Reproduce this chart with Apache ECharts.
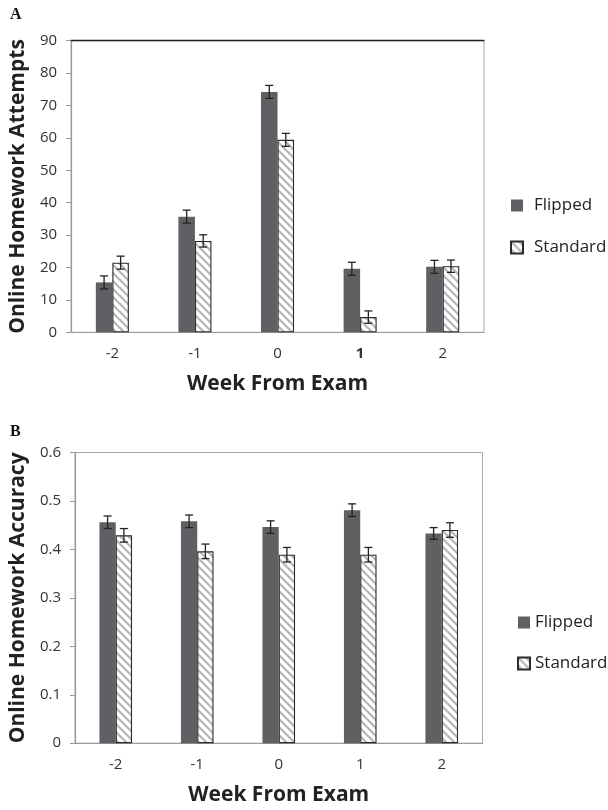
<!DOCTYPE html>
<html>
<head>
<meta charset="utf-8">
<script src="https://cdn.jsdelivr.net/npm/echarts@6/dist/echarts.min.js"></script>
<style>
html,body{margin:0;padding:0;background:#fff;}
#chart{width:608px;height:810px;}
</style>
</head>
<body>
<div id="chart"></div>
<script>
// ---- data ----
var weeks = ['-2', '-1', '0', '1', '2'];
var seriesNames = ['Flipped', 'Standard'];

var attemptsFlipped = [15.4, 35.7, 74.2, 19.6, 20.2];
var attemptsFlippedErr = [2.0, 2.0, 2.0, 2.0, 2.0];
var attemptsStandard = [21.5, 28.2, 59.4, 4.7, 20.4];
var attemptsStandardErr = [2.0, 1.9, 2.0, 1.9, 1.9];

var accuracyFlipped = [0.456, 0.458, 0.446, 0.481, 0.433];
var accuracyFlippedErr = [0.013, 0.013, 0.013, 0.013, 0.012];
var accuracyStandard = [0.429, 0.396, 0.389, 0.389, 0.440];
var accuracyStandardErr = [0.014, 0.015, 0.015, 0.015, 0.015];

var attemptsTicks = {min: 0, max: 90, interval: 10};
var accuracyTicks = {min: 0, max: 0.6, interval: 0.1};

// ---- styles ----
var FONT = '"Open Sans", "Noto Sans", sans-serif';
var FLIP_COLOR = '#5f6064';

function makeStripe() {
  var c = document.createElement('canvas');
  var s = 8;
  c.width = s; c.height = s;
  var ctx = c.getContext('2d');
  ctx.fillStyle = '#ffffff';
  ctx.fillRect(0, 0, s, s);
  ctx.strokeStyle = '#b6b6b6';
  ctx.lineWidth = 2.2;
  [-s, 0, s].forEach(function (o) {
    ctx.beginPath();
    ctx.moveTo(o - 1, -1);
    ctx.lineTo(o + s + 1, s + 1);
    ctx.stroke();
  });
  return c;
}
var stripe = {image: makeStripe(), repeat: 'repeat'};

function errSeries(name, xi, yi, vals, errs, sign) {
  return {
    type: 'custom',
    name: name + ' err',
    xAxisIndex: xi, yAxisIndex: yi,
    z: 10,
    silent: true,
    data: vals.map(function (v, i) { return [i, v, errs[i]]; }),
    encode: {x: 0, y: 1},
    renderItem: function (params, api) {
      var idx = api.value(0), v = api.value(1), e = api.value(2);
      var band = api.size([1, 0])[0];
      var bw = band * 0.2;
      var c = api.coord([idx, v]);
      var x = c[0] + sign * bw / 2;
      var yt = api.coord([idx, v + e])[1];
      var yb = api.coord([idx, v - e])[1];
      var cap = 4;
      var st = {stroke: '#222', lineWidth: 1.3};
      return {
        type: 'group',
        children: [
          {type: 'line', shape: {x1: x, y1: yt, x2: x, y2: yb}, style: st},
          {type: 'line', shape: {x1: x - cap, y1: yt, x2: x + cap, y2: yt}, style: st},
          {type: 'line', shape: {x1: x - cap, y1: yb, x2: x + cap, y2: yb}, style: st}
        ]
      };
    }
  };
}

function yAxis(gi, t, name, fmt) {
  return {
    type: 'value', gridIndex: gi, min: t.min, max: t.max, interval: t.interval,
    name: name, nameLocation: 'middle', nameGap: 42, nameRotate: 90,
    nameTextStyle: {fontFamily: FONT, fontSize: 21, fontWeight: 'bold', color: '#222'},
    axisLine: {show: true, lineStyle: {color: '#9a9a9a', width: 1.2}},
    axisTick: {show: true, length: 5, lineStyle: {color: '#9a9a9a'}},
    axisLabel: {fontFamily: FONT, fontSize: 15, color: '#333', margin: 14, formatter: fmt},
    splitLine: {show: false}
  };
}

function xAxis(gi, boldOne) {
  return {
    type: 'category', gridIndex: gi, data: weeks,
    name: 'Week From Exam', nameLocation: 'middle', nameGap: 41,
    nameTextStyle: {fontFamily: FONT, fontSize: 21, fontWeight: 'bold', color: '#222'},
    axisLine: {show: true, lineStyle: {color: '#9a9a9a', width: 1.2}},
    axisTick: {show: false},
    axisLabel: {
      fontFamily: FONT, fontSize: 15, color: '#333', margin: 14,
      formatter: function (v) { return (boldOne && v === '1') ? '{b|' + v + '}' : v; },
      rich: {b: {fontFamily: FONT, fontSize: 15, fontWeight: 'bold', color: '#333'}}
    }
  };
}

var option = {
  backgroundColor: '#fff',
  animation: false,
  textStyle: {fontFamily: FONT},
  graphic: [
    {type: 'text', left: 10, top: 7, style: {text: 'A', font: 'bold 16px "Liberation Serif", serif', fill: '#111'}},
    {type: 'text', left: 10, top: 424, style: {text: 'B', font: 'bold 16px "Liberation Serif", serif', fill: '#111'}}
  ],
  grid: [
    {left: 71, top: 40.7, width: 413, height: 291.6, show: true, borderColor: '#a8a8a8', borderWidth: 1, backgroundColor: 'transparent'},
    {left: 74, top: 452.5, width: 408.5, height: 290.7, show: true, borderColor: '#a8a8a8', borderWidth: 1, backgroundColor: 'transparent'}
  ],
  legend: [
    {
      data: [seriesNames[0], seriesNames[1]].map(function (n) { return {name: n}; }),
      left: 505, top: 192, orient: 'vertical', itemWidth: 12, itemHeight: 12, itemGap: 25,
      icon: 'rect',
      textStyle: {fontFamily: FONT, fontSize: 17, color: '#222', padding: [0, 0, 0, 6]},
      selectedMode: false
    },
    {
      data: [seriesNames[0] + ' ', seriesNames[1] + ' '].map(function (n) { return {name: n}; }),
      left: 512, top: 609, orient: 'vertical', itemWidth: 12, itemHeight: 12, itemGap: 24,
      icon: 'rect',
      textStyle: {fontFamily: FONT, fontSize: 17, color: '#222'},
      selectedMode: false
    }
  ],
  xAxis: [
    xAxis(0, true),
    xAxis(1, false),
    {type: 'category', gridIndex: 0, position: 'top', data: weeks,
     axisLine: {show: true, lineStyle: {color: '#222', width: 1.3}},
     axisTick: {show: false}, axisLabel: {show: false}}
  ],
  yAxis: [
    yAxis(0, attemptsTicks, 'Online Homework Attempts', function (v) { return String(v); }),
    yAxis(1, accuracyTicks, 'Online Homework Accuracy', function (v) { return v === 0 ? '0' : v.toFixed(1); })
  ],
  series: [
    {type: 'bar', name: seriesNames[0], xAxisIndex: 0, yAxisIndex: 0, data: attemptsFlipped,
     barWidth: '20%', barGap: '0%', itemStyle: {color: FLIP_COLOR}},
    {type: 'bar', name: seriesNames[1], xAxisIndex: 0, yAxisIndex: 0, data: attemptsStandard,
     barWidth: '20%', barGap: '0%', itemStyle: {color: stripe, borderColor: '#2a2a2a', borderWidth: 1.1}},
    {type: 'bar', name: seriesNames[0] + ' ', xAxisIndex: 1, yAxisIndex: 1, data: accuracyFlipped,
     barWidth: '20%', barGap: '0%', itemStyle: {color: FLIP_COLOR}},
    {type: 'bar', name: seriesNames[1] + ' ', xAxisIndex: 1, yAxisIndex: 1, data: accuracyStandard,
     barWidth: '20%', barGap: '0%', itemStyle: {color: stripe, borderColor: '#2a2a2a', borderWidth: 1.1}},
    errSeries('af', 0, 0, attemptsFlipped, attemptsFlippedErr, -1),
    errSeries('as', 0, 0, attemptsStandard, attemptsStandardErr, 1),
    errSeries('bf', 1, 1, accuracyFlipped, accuracyFlippedErr, -1),
    errSeries('bs', 1, 1, accuracyStandard, accuracyStandardErr, 1)
  ]
};

var chart = echarts.init(document.getElementById('chart'), null, {renderer: 'canvas'});
chart.setOption(option);
</script>
</body>
</html>
